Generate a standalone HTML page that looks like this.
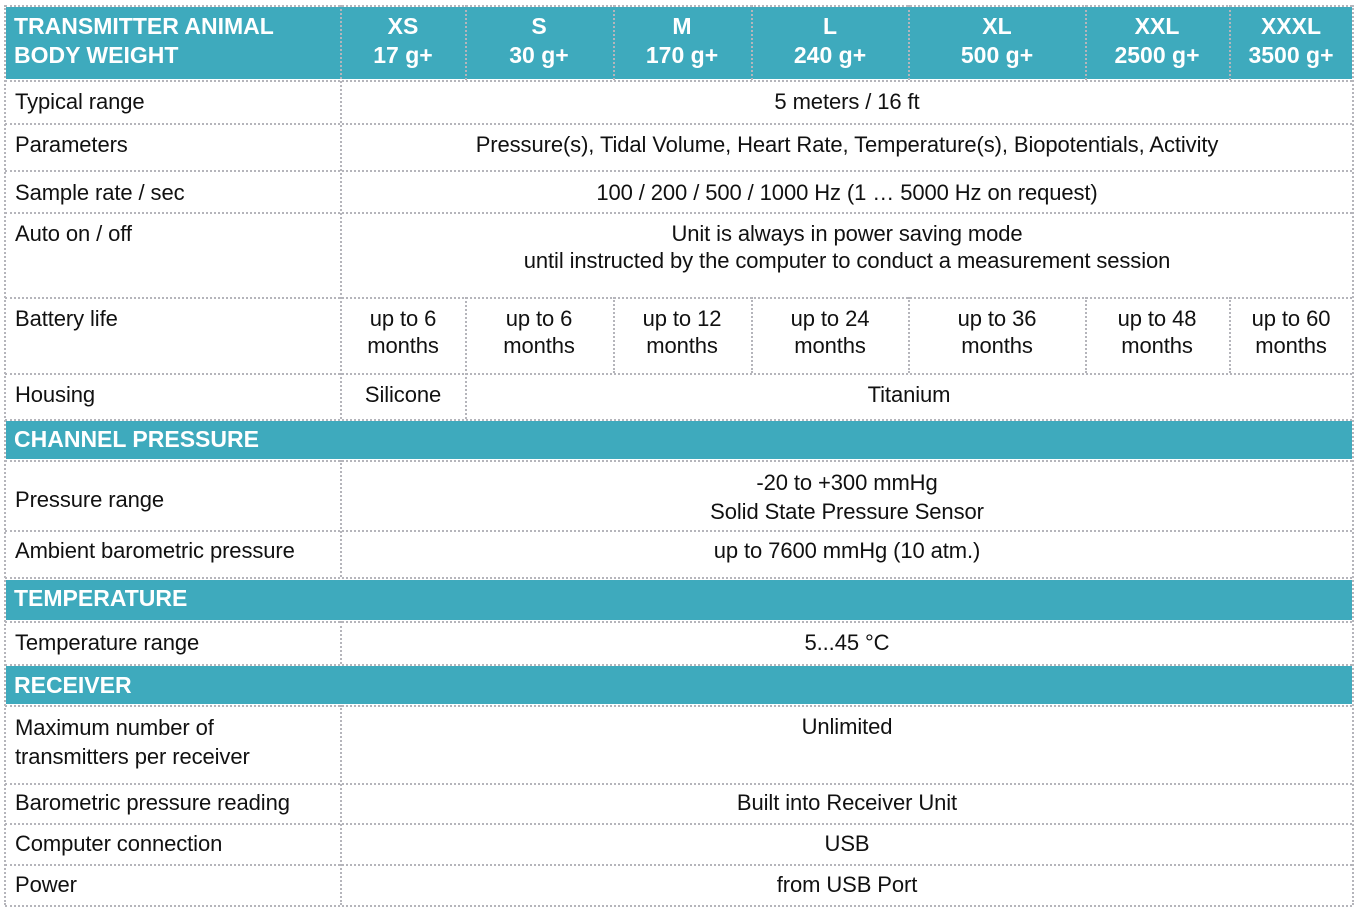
<!DOCTYPE html>
<html><head><meta charset="utf-8"><style>
body{margin:0;width:1360px;height:913px;background:#fff;position:relative;overflow:hidden;font-family:"Liberation Sans",sans-serif;}
.b{position:absolute;background:#3eaabd;}
.h{position:absolute;border-top:2px dotted #b5b5bb;height:0;}
.v{position:absolute;border-left:2px dotted #b5b5bb;width:0;}
.t{position:absolute;font-size:22px;color:#111;white-space:nowrap;letter-spacing:-0.1px;line-height:27px;}
.c{transform:translateX(-50%);text-align:center;}
.w{position:absolute;color:#fff;font-weight:bold;font-size:23px;line-height:29px;white-space:nowrap;}
</style></head><body>
<div class="b" style="left:6px;top:7px;width:1346px;height:72px"></div>
<div class="b" style="left:6px;top:421px;width:1346px;height:38px"></div>
<div class="b" style="left:6px;top:580px;width:1346px;height:40px"></div>
<div class="b" style="left:6px;top:666px;width:1346px;height:38px"></div>

<div class="h" style="left:5px;top:5px;width:1347px"></div>
<div class="h" style="left:5px;top:80px;width:1347px"></div>
<div class="h" style="left:5px;top:123px;width:1347px"></div>
<div class="h" style="left:5px;top:170px;width:1347px"></div>
<div class="h" style="left:5px;top:212px;width:1347px"></div>
<div class="h" style="left:5px;top:297px;width:1347px"></div>
<div class="h" style="left:5px;top:373px;width:1347px"></div>
<div class="h" style="left:5px;top:419px;width:1347px"></div>
<div class="h" style="left:5px;top:460px;width:1347px"></div>
<div class="h" style="left:5px;top:530px;width:1347px"></div>
<div class="h" style="left:5px;top:577px;width:1347px"></div>
<div class="h" style="left:5px;top:621px;width:1347px"></div>
<div class="h" style="left:5px;top:664px;width:1347px"></div>
<div class="h" style="left:5px;top:705px;width:1347px"></div>
<div class="h" style="left:5px;top:783px;width:1347px"></div>
<div class="h" style="left:5px;top:823px;width:1347px"></div>
<div class="h" style="left:5px;top:864px;width:1347px"></div>
<div class="h" style="left:5px;top:905px;width:1347px"></div>

<div class="v" style="left:4px;top:5px;height:900px"></div>
<div class="v" style="left:1352px;top:5px;height:900px"></div>
<div class="v" style="left:340px;top:5px;height:414px"></div>
<div class="v" style="left:340px;top:460px;height:117px"></div>
<div class="v" style="left:340px;top:621px;height:43px"></div>
<div class="v" style="left:340px;top:705px;height:200px"></div>
<div class="v" style="left:465px;top:5px;height:75px"></div>
<div class="v" style="left:613px;top:5px;height:75px"></div>
<div class="v" style="left:751px;top:5px;height:75px"></div>
<div class="v" style="left:908px;top:5px;height:75px"></div>
<div class="v" style="left:1085px;top:5px;height:75px"></div>
<div class="v" style="left:1229px;top:5px;height:75px"></div>
<div class="v" style="left:465px;top:297px;height:122px"></div>
<div class="v" style="left:613px;top:297px;height:76px"></div>
<div class="v" style="left:751px;top:297px;height:76px"></div>
<div class="v" style="left:908px;top:297px;height:76px"></div>
<div class="v" style="left:1085px;top:297px;height:76px"></div>
<div class="v" style="left:1229px;top:297px;height:76px"></div>

<div class="w" style="left:14px;top:12px">TRANSMITTER ANIMAL<br>BODY WEIGHT</div>
<div class="w c" style="left:403px;top:12px">XS<br>17 g+</div>
<div class="w c" style="left:539px;top:12px">S<br>30 g+</div>
<div class="w c" style="left:682px;top:12px">M<br>170 g+</div>
<div class="w c" style="left:830px;top:12px">L<br>240 g+</div>
<div class="w c" style="left:997px;top:12px">XL<br>500 g+</div>
<div class="w c" style="left:1157px;top:12px">XXL<br>2500 g+</div>
<div class="w c" style="left:1291px;top:12px">XXXL<br>3500 g+</div>
<div class="w" style="left:14px;top:425px">CHANNEL PRESSURE</div>
<div class="w" style="left:14px;top:584px">TEMPERATURE</div>
<div class="w" style="left:14px;top:671px">RECEIVER</div>

<div class="t" style="left:15px;top:88px">Typical range</div>
<div class="t" style="left:15px;top:131px">Parameters</div>
<div class="t" style="left:15px;top:179px">Sample rate / sec</div>
<div class="t" style="left:15px;top:220px">Auto on / off</div>
<div class="t" style="left:15px;top:305px">Battery life</div>
<div class="t" style="left:15px;top:381px">Housing</div>
<div class="t" style="left:15px;top:486px">Pressure range</div>
<div class="t" style="left:15px;top:537px">Ambient barometric pressure</div>
<div class="t" style="left:15px;top:629px">Temperature range</div>
<div class="t" style="left:15px;top:713px;line-height:29px">Maximum number of<br>transmitters per receiver</div>
<div class="t" style="left:15px;top:789px">Barometric pressure reading</div>
<div class="t" style="left:15px;top:830px">Computer connection</div>
<div class="t" style="left:15px;top:871px">Power</div>

<div class="t c" style="left:847px;top:88px">5 meters / 16 ft</div>
<div class="t c" style="left:847px;top:131px">Pressure(s), Tidal Volume, Heart Rate, Temperature(s), Biopotentials, Activity</div>
<div class="t c" style="left:847px;top:179px">100 / 200 / 500 / 1000 Hz (1 … 5000 Hz on request)</div>
<div class="t c" style="left:847px;top:220px">Unit is always in power saving mode<br>until instructed by the computer to conduct a measurement session</div>
<div class="t c" style="left:403px;top:305px">up to 6<br>months</div>
<div class="t c" style="left:539px;top:305px">up to 6<br>months</div>
<div class="t c" style="left:682px;top:305px">up to 12<br>months</div>
<div class="t c" style="left:830px;top:305px">up to 24<br>months</div>
<div class="t c" style="left:997px;top:305px">up to 36<br>months</div>
<div class="t c" style="left:1157px;top:305px">up to 48<br>months</div>
<div class="t c" style="left:1291px;top:305px">up to 60<br>months</div>
<div class="t c" style="left:403px;top:381px">Silicone</div>
<div class="t c" style="left:909px;top:381px">Titanium</div>
<div class="t c" style="left:847px;top:468px;line-height:29px">-20 to +300 mmHg<br>Solid State Pressure Sensor</div>
<div class="t c" style="left:847px;top:537px">up to 7600 mmHg (10 atm.)</div>
<div class="t c" style="left:847px;top:629px">5...45 °C</div>
<div class="t c" style="left:847px;top:713px">Unlimited</div>
<div class="t c" style="left:847px;top:789px">Built into Receiver Unit</div>
<div class="t c" style="left:847px;top:830px">USB</div>
<div class="t c" style="left:847px;top:871px">from USB Port</div>
</body></html>
